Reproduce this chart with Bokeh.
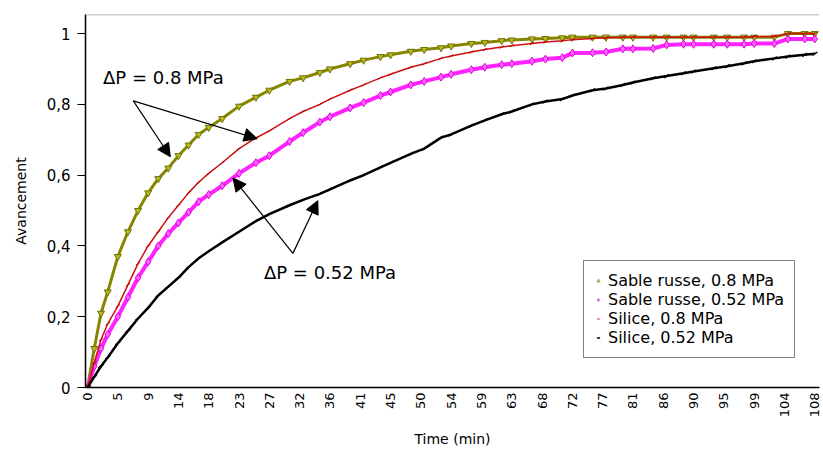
from bokeh.plotting import figure
from bokeh.models import (Range1d, FixedTicker, Legend, LegendItem, Arrow, NormalHead, Label, Span)
from bokeh.embed import file_html
from bokeh.resources import INLINE
import math

# ---------------- data ----------------
time_min = [0, 1, 2, 3, 4.5, 6, 7.5, 9, 10.5, 12, 13.5, 15, 16.5, 18, 20, 22.5, 25, 27, 30, 32,
            34.5, 36, 39, 41, 43.5, 45, 48, 50, 52.5, 54, 57, 59, 61.5, 63, 66, 68, 70.5, 72, 75,
            77, 79.5, 81, 84, 86, 88.5, 90, 93, 95, 97.5, 99, 102, 104, 106.5, 108]

sable_russe_08 = [0.0, 0.11, 0.21, 0.27, 0.37, 0.44, 0.50, 0.55, 0.59, 0.62, 0.655, 0.685, 0.715,
                  0.735, 0.76, 0.795, 0.82, 0.84, 0.865, 0.875, 0.89, 0.90, 0.915, 0.925, 0.935,
                  0.94, 0.95, 0.955, 0.96, 0.965, 0.972, 0.975, 0.98, 0.982, 0.985, 0.986, 0.988,
                  0.99, 0.99, 0.99, 0.99, 0.99, 0.99, 0.99, 0.99, 0.99, 0.99, 0.99, 0.99, 0.99,
                  0.99, 1.0, 1.0, 1.0]

sable_russe_052 = [0.0, 0.06, 0.11, 0.15, 0.20, 0.255, 0.31, 0.355, 0.40, 0.435, 0.465, 0.495,
                   0.525, 0.545, 0.57, 0.605, 0.635, 0.655, 0.695, 0.72, 0.75, 0.765, 0.79, 0.805,
                   0.825, 0.835, 0.855, 0.865, 0.877, 0.885, 0.898, 0.905, 0.912, 0.915, 0.922,
                   0.928, 0.932, 0.945, 0.946, 0.948, 0.957, 0.957, 0.958, 0.968, 0.97, 0.97,
                   0.97, 0.97, 0.97, 0.972, 0.972, 0.985, 0.985, 0.985]

silice_08 = [0.0, 0.07, 0.135, 0.18, 0.23, 0.29, 0.35, 0.40, 0.44, 0.48, 0.515, 0.55, 0.58, 0.605,
             0.635, 0.675, 0.705, 0.725, 0.76, 0.78, 0.80, 0.815, 0.84, 0.855, 0.875, 0.885,
             0.905, 0.915, 0.93, 0.937, 0.948, 0.955, 0.962, 0.966, 0.972, 0.976, 0.98, 0.983,
             0.986, 0.988, 0.99, 0.99, 0.99, 0.99, 0.99, 0.99, 0.99, 0.99, 0.99, 0.992, 0.992,
             1.0, 1.0, 1.0]

silice_052 = [0.0, 0.03, 0.06, 0.085, 0.125, 0.16, 0.195, 0.225, 0.26, 0.285, 0.31, 0.34, 0.365,
              0.385, 0.41, 0.44, 0.47, 0.49, 0.515, 0.53, 0.547, 0.56, 0.585, 0.60, 0.622, 0.635,
              0.66, 0.675, 0.706, 0.715, 0.74, 0.755, 0.772, 0.78, 0.80, 0.808, 0.815, 0.825,
              0.84, 0.845, 0.855, 0.862, 0.874, 0.88, 0.888, 0.893, 0.902, 0.908, 0.916, 0.922,
              0.93, 0.935, 0.94, 0.943]

x_tick_values = [0, 4.5, 9, 13.5, 18, 22.5, 27, 31.5, 36, 40.5, 45, 49.5, 54, 58.5, 63, 67.5,
                 72, 76.5, 81, 85.5, 90, 94.5, 99, 103.5, 108]
x_tick_labels = ["0", "5", "9", "14", "18", "23", "27", "32", "36", "41", "45", "50", "54",
                 "59", "63", "68", "72", "77", "81", "86", "90", "95", "99", "104", "108"]
y_tick_values = [0, 0.2, 0.4, 0.6, 0.8, 1.0]
y_tick_labels = ["0", "0,2", "0,4", "0,6", "0,8", "1"]

series_names = ["Sable russe, 0.8 MPa", "Sable russe, 0.52 MPa", "Silice, 0.8 MPa", "Silice, 0.52 MPa"]

FONT = "DejaVu Sans"
Y_TOP = 1.054

p = figure(width=823, height=450, output_backend="svg", toolbar_location=None,
           x_range=Range1d(-0.3, 108.7), y_range=Range1d(0, Y_TOP),
           min_border_left=85, min_border_right=4, min_border_top=14, min_border_bottom=63)
p.background_fill_color = "white"
p.border_fill_color = "white"
p.outline_line_color = None
p.xgrid.visible = False
p.ygrid.visible = False
p.add_layout(Span(location=Y_TOP, dimension="width", line_color="#9a9a9a", line_width=1.5))

# axes
p.xaxis.ticker = FixedTicker(ticks=x_tick_values)
p.xaxis.major_label_overrides = {v: l for v, l in zip(x_tick_values, x_tick_labels)}
p.xaxis.major_label_orientation = math.pi / 2
p.xaxis.major_tick_out = 0
p.xaxis.major_tick_in = 0
p.xaxis.minor_tick_out = 0
p.xaxis.minor_tick_in = 0
p.xaxis.major_label_standoff = 5
p.xaxis.axis_label = "Time (min)"
p.xaxis.axis_label_standoff = 11

p.yaxis.ticker = FixedTicker(ticks=y_tick_values)
p.yaxis.major_label_overrides = {v: l for v, l in zip(y_tick_values, y_tick_labels)}
p.yaxis.major_tick_out = 8
p.yaxis.major_tick_in = 0
p.yaxis.minor_tick_out = 0
p.yaxis.minor_tick_in = 0
p.yaxis.major_label_standoff = 7
p.yaxis.axis_label = "Avancement"
p.yaxis.axis_label_standoff = 15

for ax in (p.xaxis[0], p.yaxis[0]):
    ax.axis_line_color = "black"
    ax.axis_line_width = 1.5
    ax.major_tick_line_color = "black"
    ax.major_label_text_font = FONT
    ax.major_label_text_color = "black"
    ax.axis_label_text_font = FONT
    ax.axis_label_text_font_style = "normal"
    ax.axis_label_text_color = "black"
p.xaxis.major_label_text_font_size = "13px"
p.yaxis.major_label_text_font_size = "15px"
p.xaxis.axis_label_text_font_size = "14px"
p.yaxis.axis_label_text_font_size = "14px"

# series
l1 = p.line(time_min, sable_russe_08, line_color="#858500", line_width=3)
m1 = p.scatter(time_min, sable_russe_08, marker="inverted_triangle", size=7,
               line_color="#707000", fill_color="#b8b820", line_width=1)

l2 = p.line(time_min, sable_russe_052, line_color="#ff22ff", line_width=4)
m2 = p.scatter(time_min, sable_russe_052, marker="diamond", size=8,
               line_color="#e000e0", fill_color="#ff66ff", line_width=1)

l3 = p.line(time_min, silice_08, line_color="#d01010", line_width=1.5)
m3 = p.scatter(time_min, silice_08, marker="dash", size=5, angle=0.6,
               line_color="#b00000", line_width=1)

l4 = p.line(time_min, silice_052, line_color="black", line_width=2.5)
m4 = p.scatter(time_min, silice_052, marker="dash", size=6, angle=0.6,
               line_color="black", line_width=1.5)

# legend (markers only, as in the original); one point each, kept outside the visible range
off_x = [-50]
off_y = [-50]
lg1 = p.scatter(off_x, off_y, marker="triangle", size=6, line_color="#9a9a40", fill_color="#e0e0a0")
lg2 = p.scatter(off_x, off_y, marker="diamond", size=7, line_color="#d060d0", fill_color="#f0b0f0")
lg3 = p.scatter(off_x, off_y, marker="dash", size=4, angle=0.6, line_color="#d04040", line_width=1)
lg4 = p.scatter(off_x, off_y, marker="dash", size=4, angle=0.6, line_color="black", line_width=1.5)
legend = Legend(items=[LegendItem(label=n, renderers=[r]) for n, r in
                       zip(series_names, [lg1, lg2, lg3, lg4])],
                location=(498, 29))
legend.label_text_font = FONT
legend.label_text_font_size = "16px"
legend.label_text_color = "black"
legend.glyph_width = 8
legend.glyph_height = 19
legend.label_height = 19
legend.label_standoff = 6
legend.spacing = 0
legend.padding = 10
legend.margin = 0
legend.border_line_color = "black"
legend.border_line_width = 1.2
legend.background_fill_color = "white"
legend.background_fill_alpha = 1
p.add_layout(legend, "center")

# annotations
def arrow(x0, y0, x1, y1):
    p.add_layout(Arrow(x_start=x0, y_start=y0, x_end=x1, y_end=y1, line_color="black", line_width=1.2,
                       end=NormalHead(size=13, fill_color="black", line_color="black")))

arrow(6.8, 0.81, 12.3, 0.652)
arrow(6.8, 0.81, 25.2, 0.703)
arrow(30.5, 0.379, 21.6, 0.592)
arrow(30.5, 0.379, 34.2, 0.528)

p.add_layout(Label(x=2.3, y=0.876, text="ΔP = 0.8 MPa", text_font=FONT, text_font_size="18px",
                   text_baseline="middle", text_color="black"))
p.add_layout(Label(x=26.2, y=0.325, text="ΔP = 0.52 MPa", text_font=FONT, text_font_size="18px",
                   text_baseline="middle", text_color="black"))

open("out.html", "w").write(file_html(p, INLINE))
